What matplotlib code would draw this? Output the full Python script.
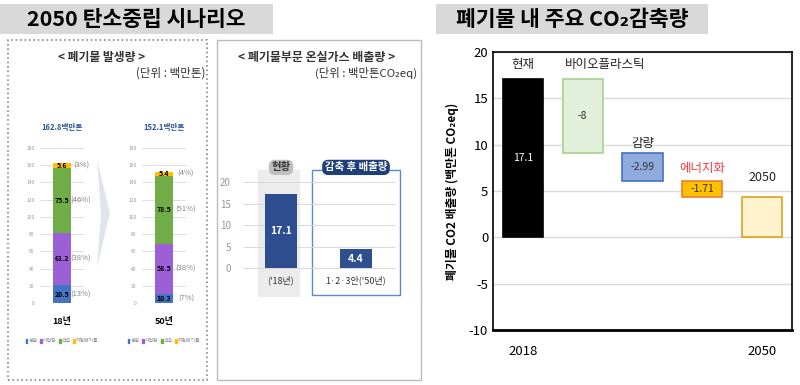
import numpy as np
import matplotlib
matplotlib.use('Agg')
import matplotlib.pyplot as plt
from matplotlib.patches import Rectangle, Polygon, Patch

plt.rcParams['font.family'] = ['Noto Sans CJK KR', 'DejaVu Sans']
plt.rcParams['axes.unicode_minus'] = False

W, H = 800, 385

# ── data ──────────────────────────────────────────────────────────────────────
gen_cats = ['생활', '사업장', '건설', '지정폐기물']
gen_colors = ['#4472c4', '#9b5fd6', '#70ad47', '#ffc000']
gen_years = ['18년', '50년']
gen_totals = ['162.8백만톤', '152.1백만톤']
gen_2018 = [20.5, 61.2, 75.5, 5.6]
gen_2050 = [10.3, 58.5, 78.5, 5.4]
gen_pct_2018 = ['(13%)', '(38%)', '(46%)', '(3%)']
gen_pct_2050 = ['(7%)', '(38%)', '(51%)', '(4%)']

emis_labels = ["('18년)", "1·2·3안('50년)"]
emis_values = [17.1, 4.4]
emis_tags = ['현황', '감축 후 배출량']

wf_names = ['현재', '바이오플라스틱', '감량', '에너지화', '2050']
wf_steps = [17.1, -8, -2.99, -1.71]
wf_text = ['17.1', '-8', '-2.99', '-1.71', '']
wf_xticks = ['2018', '', '', '', '2050']


def px_axes(fig, x0, y0, x1, y1):
    return fig.add_axes([x0 / W, 1 - y1 / H, (x1 - x0) / W, (y1 - y0) / H])


def ftext(fig, x, y, s, **kw):
    return fig.text(x / W, 1 - y / H, s, **kw)


fig = plt.figure(figsize=(8, 3.85), dpi=100)

# ── title boxes ──────────────────────────────────────────────────────────────
fig.patches.append(Rectangle((0, 1 - 34 / H), 273 / W, 30 / H, transform=fig.transFigure,
                             facecolor='#d9d9d9', edgecolor='none'))
ftext(fig, 136, 19, '2050 탄소중립 시나리오', ha='center', va='center',
      fontsize=15.5, fontweight='bold')
fig.patches.append(Rectangle((436 / W, 1 - 34 / H), 272 / W, 30 / H, transform=fig.transFigure,
                             facecolor='#d9d9d9', edgecolor='none'))
ftext(fig, 572, 19, '폐기물 내 주요 CO₂감축량', ha='center', va='center',
      fontsize=15.5, fontweight='bold')

# panel frames
fig.patches.append(Rectangle((8 / W, 1 - 380 / H), 199 / W, 340 / H, transform=fig.transFigure,
                             facecolor='none', edgecolor='#888888', lw=1.2, ls=':'))
fig.patches.append(Rectangle((217 / W, 1 - 380 / H), 204 / W, 340 / H, transform=fig.transFigure,
                             facecolor='none', edgecolor='#bbbbbb', lw=1.0))

# ── left: waste generation ───────────────────────────────────────────────────
ftext(fig, 102, 58, '< 폐기물 발생량 >', ha='center', va='center', fontsize=8.5,
      fontweight='bold', color='#333333')
ftext(fig, 205, 73, '(단위 : 백만톤)', ha='right', va='center', fontsize=8.3, color='#333333')

# chevron between the two stacks
fig.patches.append(Polygon([(97 / W, 1 - 160 / H), (110 / W, 1 - 213 / H), (97 / W, 1 - 267 / H),
                            (101 / W, 1 - 213 / H)], closed=True, transform=fig.transFigure,
                           facecolor='#dfe5ef', edgecolor='none'))

for (x0, x1), vals, pcts, yr, tot, pct_x in [
        ((40, 84), gen_2018, gen_pct_2018, gen_years[0], gen_totals[0], 0.93),
        ((142, 186), gen_2050, gen_pct_2050, gen_years[1], gen_totals[1], 1.0)]:
    ax = px_axes(fig, x0, 148, x1, 303)
    ax.set_xlim(0, 1)
    ax.set_ylim(0, 180)
    for s in ax.spines.values():
        s.set_visible(False)
    ax.set_xticks([])
    ax.set_yticks(np.arange(0, 181, 20))
    ax.tick_params(axis='y', length=0, labelsize=3.5, labelcolor='#999999', pad=4)
    ax.yaxis.grid(True, color='#d9d9d9', lw=0.6)
    ax.set_axisbelow(True)
    bottom = 0
    for v, c, p in zip(vals, gen_colors, pcts):
        ax.bar(0.5, v, width=0.41, bottom=bottom, color=c, zorder=3)
        ax.text(0.5, bottom + v / 2, f'{v}', ha='center', va='center', fontsize=5,
                fontweight='bold', zorder=4)
        ax.text(pct_x, bottom + v / 2, p, ha='center', va='center', fontsize=5.5,
                color='#888888', clip_on=False)
        bottom += v
    ax.text(0.5, 1.13, tot, transform=ax.transAxes, ha='center', va='center', fontsize=5.5,
            fontweight='bold', color='#2f5597')
    ax.text(0.5, -0.12, yr, transform=ax.transAxes, ha='center', va='center', fontsize=6.5,
            fontweight='bold')
    ax.legend([Patch(color=c) for c in gen_colors], gen_cats, loc='upper center',
              bbox_to_anchor=(0.5, -0.2), ncol=4, fontsize=3.5, frameon=False,
              handlelength=0.4, handleheight=0.8, handletextpad=0.2, columnspacing=0.5,
              labelcolor='#888888')

# ── middle: sector emissions ─────────────────────────────────────────────────
ftext(fig, 317, 58, '< 폐기물부문 온실가스 배출량 >', ha='center', va='center', fontsize=8.6,
      fontweight='bold', color='#333333')
ftext(fig, 417, 73, '(단위 : 백만톤CO₂eq)', ha='right', va='center', fontsize=8.2,
      color='#333333')

axm = px_axes(fig, 232, 160, 405, 300)
axm.set_xlim(-0.653, 1.653)
axm.set_ylim(-7.44, 25.12)
for s in axm.spines.values():
    s.set_visible(False)
axm.set_xticks([])
axm.set_yticks([0, 5, 10, 15, 20])
axm.tick_params(axis='y', length=0, labelsize=7, labelcolor='#999999', pad=1)
axm.add_patch(Rectangle((-0.307, -6.74), 0.56, 29.5, facecolor='#ececec', edgecolor='none',
                        zorder=0))
axm.add_patch(Rectangle((0.413, -6.28), 1.17, 29.1, facecolor='none', edgecolor='#5b8cc8',
                        lw=1.0, zorder=1, clip_on=False))
axm.hlines([0, 5, 10, 15, 20], -0.5, 1.52, color='#d9d9d9', lw=0.7, zorder=1)
xm = np.arange(len(emis_values))
axm.bar(xm, emis_values, width=0.43, color='#2e4e8f', zorder=3)
for x, v, lab in zip(xm, emis_values, emis_labels):
    axm.text(x, v / 2, f'{v}', ha='center', va='center', fontsize=7.5, color='white',
             fontweight='bold', zorder=4)
    axm.text(x, -2.8, lab, ha='center', va='center', fontsize=6.5, color='#333333')
axm.text(0, 23.4, emis_tags[0], ha='center', va='center', fontsize=7.5, fontweight='bold',
         color='#333333', clip_on=False,
         bbox=dict(boxstyle='round,pad=0.25,rounding_size=0.6', fc='#bfbfbf', ec='none'))
axm.text(1, 23.4, emis_tags[1], ha='center', va='center', fontsize=7.5, fontweight='bold',
         color='white', clip_on=False,
         bbox=dict(boxstyle='round,pad=0.25,rounding_size=0.6', fc='#1f3f7a', ec='none'))

# ── right: waterfall ─────────────────────────────────────────────────────────
axw = px_axes(fig, 493, 52, 792, 330)
final = sum(wf_steps)
bottoms, heights = [0], [wf_steps[0]]
level = wf_steps[0]
for s in wf_steps[1:]:
    level += s
    bottoms.append(level)
    heights.append(-s)
bottoms.append(0)
heights.append(final)

fills = ['#000000', '#e2efda', '#8faadc', '#ffc000', '#fff2cc']
edges = ['#000000', '#a9d08e', '#4472c4', '#ed7d31', '#d6a520']
name_colors = ['#222222', '#222222', '#222222', '#ff3b3b', '#222222']
name_offsets = [6, 6, 2, 4, 9]
name_dx = [0, 0.37, 0, 0, 0]
xs = np.arange(len(wf_names))

axw.bar(xs, heights, bottom=bottoms, width=0.67, color=fills, edgecolor=edges, lw=1.2,
        zorder=3)
for x, b, h, t, n, nc, off, dx, fc in zip(xs, bottoms, heights, wf_text, wf_names,
                                           name_colors, name_offsets, name_dx, fills):
    if t:
        axw.text(x, b + h / 2, t, ha='center', va='center', fontsize=7.5,
                 color='white' if fc == '#000000' else '#333333', zorder=4)
    axw.annotate(n, (x + dx, b + h), xytext=(0, off), textcoords='offset points',
                 ha='center', va='bottom', fontsize=9, color=nc)

axw.set_xlim(-0.5, 4.5)
axw.set_ylim(-10, 20)
axw.set_yticks(np.arange(-10, 21, 5))
axw.set_xticks(xs)
axw.set_xticklabels(wf_xticks)
axw.tick_params(length=0, labelsize=9.5)
axw.tick_params(axis='x', pad=11)
axw.yaxis.grid(True, color='#d9d9d9', lw=1.0)
axw.set_axisbelow(True)
for s in axw.spines.values():
    s.set_color('#000000')
    s.set_linewidth(1.2)
axw.spines['bottom'].set_linewidth(2.0)
axw.set_ylabel('폐기물 CO2 배출량 (백만톤 CO₂eq)', fontsize=8.5, fontweight='bold', labelpad=7)

plt.savefig('out.png', dpi=100)
